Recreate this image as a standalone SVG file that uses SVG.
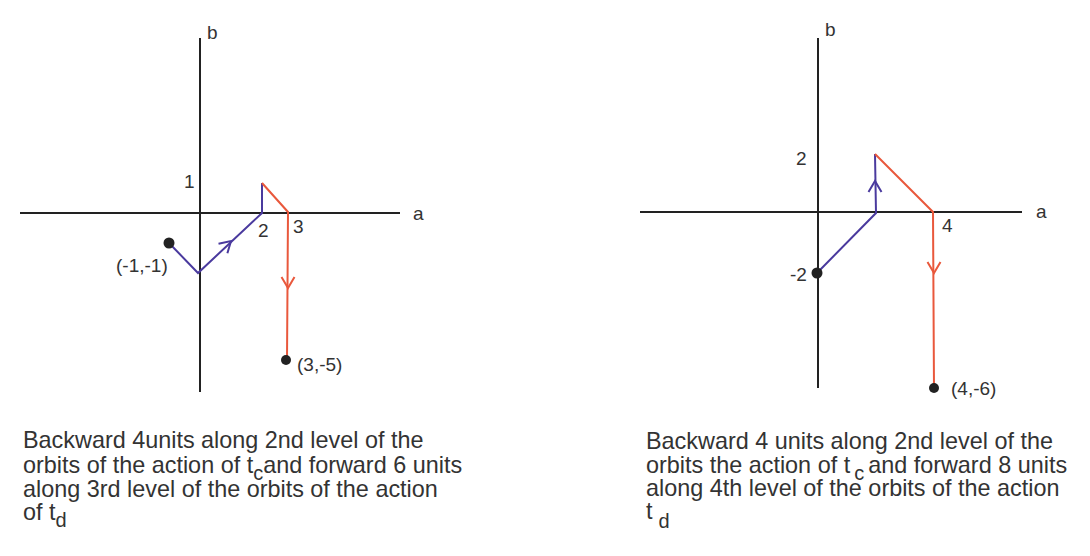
<svg xmlns="http://www.w3.org/2000/svg" xmlns:xlink="http://www.w3.org/1999/xlink" width="1090" height="556" viewBox="0 0 1090 556">
<style>
text{font-family:"Liberation Sans",Arial,sans-serif;fill:#333}
.lbl{font-size:19px}
.cap{font-size:23.4px}
.sub{font-size:20px}
.axis{stroke:#222;stroke-width:2;fill:none}
.blue{stroke:#4a3a9e;stroke-width:2;fill:none;stroke-linejoin:miter}
.red{stroke:#e9583c;stroke-width:2;fill:none}
.dot{fill:#222}
</style>
<defs>
<path id="chev" d="M-11,-6.5 L0,0 L-11,6.5"/>
</defs>
<rect width="1090" height="556" fill="#fff"/>
<g id="left-axes">
<line class="axis" x1="200" y1="38" x2="200" y2="392"/>
<line class="axis" x1="20" y1="213" x2="400" y2="213"/>
<text class="lbl" x="207" y="39">b</text>
<text class="lbl" x="413" y="220">a</text>
<text class="lbl" x="184" y="188">1</text>
<text class="lbl" x="258" y="237">2</text>
<text class="lbl" x="293" y="233">3</text>
<text class="lbl" x="116" y="272">(-1,-1)</text>
<text class="lbl" x="297" y="371">(3,-5)</text>
</g>
<g id="right-axes">
<line class="axis" x1="818" y1="38" x2="818" y2="388"/>
<line class="axis" x1="640" y1="212" x2="1022" y2="212"/>
<text class="lbl" x="825" y="36">b</text>
<text class="lbl" x="1036" y="218">a</text>
<text class="lbl" x="796" y="165">2</text>
<text class="lbl" x="942" y="232">4</text>
<text class="lbl" x="790" y="281">-2</text>
<text class="lbl" x="951" y="395">(4,-6)</text>
</g>
<g id="connectors">
<path class="blue" d="M169,243 L198,273 L262,213 L262,183"/>
<path class="red" d="M262,183 L288,212 L287,360"/>
<use xlink:href="#chev" class="blue" transform="translate(231,241) rotate(-43)"/>
<use xlink:href="#chev" class="red" transform="translate(288,288) rotate(90)"/>
<path class="blue" d="M817,273 L876,213 L875,154"/>
<path class="red" d="M875,154 L933,212 L934,388"/>
<use xlink:href="#chev" class="blue" transform="translate(875,181) rotate(-90)"/>
<use xlink:href="#chev" class="red" transform="translate(934,273) rotate(90)"/>
</g>
<g id="points">
<circle class="dot" cx="169" cy="243" r="5.5"/>
<circle class="dot" cx="286" cy="360" r="5"/>
<circle class="dot" cx="817" cy="273" r="5.5"/>
<circle class="dot" cx="934" cy="388" r="5"/>
</g>
<g id="caption-left">
<text class="cap" x="23" y="448">Backward 4units along 2nd level of the</text>
<text class="cap" x="23" y="473">orbits of the action of t<tspan class="sub" dy="7">c</tspan><tspan dy="-7">and forward 6 units</tspan></text>
<text class="cap" x="23" y="497">along 3rd level of the orbits of the action</text>
<text class="cap" x="23" y="520">of t<tspan class="sub" dy="7">d</tspan></text>
</g>
<g id="caption-right">
<text class="cap" x="646" y="449">Backward 4 units along 2nd level of the</text>
<text class="cap" x="646" y="473">orbits the action of t<tspan class="sub" dx="4" dy="7">c</tspan><tspan dx="4" dy="-7">and forward 8 units</tspan></text>
<text class="cap" x="646" y="496">along 4th level of the orbits of the action</text>
<text class="cap" x="646" y="519">t<tspan class="sub" dx="6" dy="9">d</tspan></text>
</g>
</svg>
